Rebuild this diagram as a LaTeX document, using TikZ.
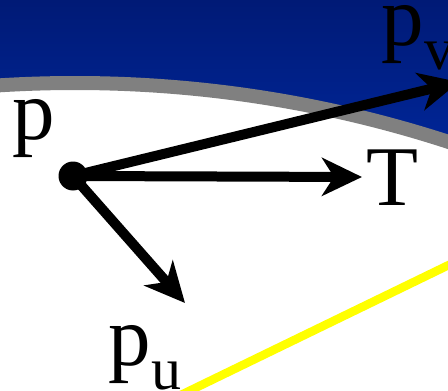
\documentclass[tikz,border=0pt]{standalone}
\usepackage{fontspec}
\setmainfont{Liberation Serif}
\usetikzlibrary{arrows.meta}
\definecolor{navytop}{RGB}{0,26,118}
\definecolor{navybot}{RGB}{0,38,152}
\definecolor{rimgray}{RGB}{128,128,128}
\definecolor{lineyellow}{RGB}{255,255,0}
\tikzset{
  vec/.style={line width=10pt, -{Stealth[length=40pt,width=38pt,inset=12pt]}},
  biglabel/.style={inner sep=0pt, anchor=base west, font=\fontsize{85}{85}\selectfont},
}
\newcommand{\subtxt}[1]{\raisebox{-24pt}{\fontsize{60}{60}\selectfont #1}}
\begin{document}
\begin{tikzpicture}[x=1pt,y=-1pt]
\useasboundingbox (0,0) rectangle (448,391);
\clip (0,0) rectangle (448,391);
% blue background
\fill[navybot] (0,0) rectangle (448,391);
\shade[top color=navytop, bottom color=navybot] (0,0) rectangle (448,150);
% white disc with gray rim
\draw[rimgray, fill=white, line width=14pt] (75,1290) circle[radius=1207];
% yellow line
\coordinate (y1) at (150,410);
\coordinate (y2) at (490,245);
\draw[lineyellow, line width=8.5pt] (y1) -- (y2);
% point p
\node[circle, fill=black, minimum size=29pt, inner sep=0pt] (p) at (73,176) {};
\coordinate (tT) at (362,177);
\coordinate (tu) at (185,303);
\coordinate (tv) at (459,82);
\draw[vec] (p.center) -- (tT);
\draw[vec] (p.center) -- (tu);
\draw[vec] (p.center) -- (tv);
% labels
\node[biglabel] (lp) at (12.5,139) {p};
\node[biglabel] (lT) at (366,205) {T};
\node[biglabel] (lpu) at (108.5,365) {p\subtxt{u}};
\node[biglabel] (lpv) at (381.5,45) {p\subtxt{v}};
\end{tikzpicture}
\end{document}
